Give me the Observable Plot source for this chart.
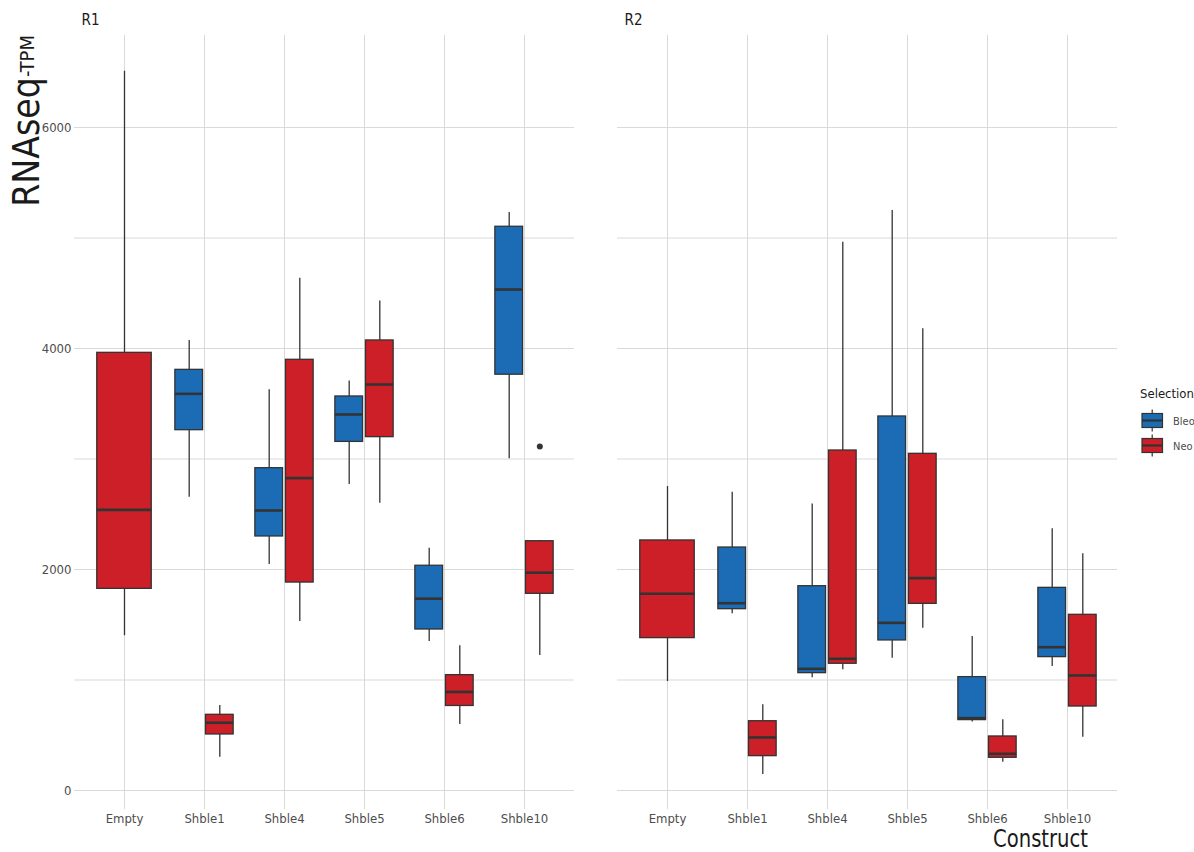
<!DOCTYPE html>
<html><head><meta charset="utf-8">
<script src="https://cdn.jsdelivr.net/npm/d3@7"></script>
<script src="https://cdn.jsdelivr.net/npm/@observablehq/plot@0.6"></script>
<style>
body{margin:0;background:#fff;}
#wrap{position:relative;width:1194px;height:852px;font-family:"Liberation Sans Narrow","DejaVu Sans Condensed","Roboto",sans-serif;}
#wrap svg.overlay{position:absolute;left:0;top:0;pointer-events:none;overflow:visible}
#wrap > svg:first-child{position:absolute;left:0;top:0}
</style></head><body><div id="wrap"></div>
<script>
// ---- data ----
const constructs = ["Empty","Shble1","Shble4","Shble5","Shble6","Shble10"];
const selections = ["Bleo","Neo"];
const replicates = ["R1","R2"];
const yTicks = [0,2000,4000,6000];
const yGrid = [0,1000,2000,3000,4000,5000,6000];

const rowReplicate = ["R1","R1","R1","R1","R1","R1","R1","R1","R1","R1","R1",
                      "R2","R2","R2","R2","R2","R2","R2","R2","R2","R2","R2"];
const rowConstruct = ["Empty","Shble1","Shble1","Shble4","Shble4","Shble5","Shble5","Shble6","Shble6","Shble10","Shble10",
                      "Empty","Shble1","Shble1","Shble4","Shble4","Shble5","Shble5","Shble6","Shble6","Shble10","Shble10"];
const rowSelection = ["Neo","Bleo","Neo","Bleo","Neo","Bleo","Neo","Bleo","Neo","Bleo","Neo",
                      "Neo","Bleo","Neo","Bleo","Neo","Bleo","Neo","Bleo","Neo","Bleo","Neo"];
const whiskerLow  = [1400,2654, 302,2045,1529,2769,2600,1349, 597,3002,1222,
                      986,1599, 145,1020,1092,1198,1469, 621, 256,1122, 483];
const boxLow      = [1825,3261, 507,2299,1882,3155,3198,1457, 765,3763,1780,
                     1379,1641, 311,1062,1147,1358,1689, 637, 296,1207, 760];
const medianValue = [2540,3590, 613,2534,2827,3403,3674,1736, 892,4534,1971,
                     1780,1695, 480,1101,1192,1517,1922, 655, 332,1297,1041];
const boxHigh     = [3961,3807, 685,2917,3898,3566,4073,2034,1044,5102,2256,
                     2263,2199, 627,1849,3077,3385,3047,1026, 489,1834,1590];
const whiskerHigh = [6510,4073, 769,3626,4637,3705,4431,2193,1311,5232,2262,
                     2751,2700, 775,2594,4962,5249,4178,1394, 640,2368,2142];

const outlierReplicate = ["R1"];
const outlierConstruct = ["Shble10"];
const outlierSelection = ["Neo"];
const outlierValue = [3113];

// ---- build tables ----
const rows = rowReplicate.map((r, i) => ({
  rep: r, construct: rowConstruct[i], selection: rowSelection[i],
  ymin: whiskerLow[i], lower: boxLow[i], middle: medianValue[i], upper: boxHigh[i], ymax: whiskerHigh[i]
}));
rows.forEach(d => {
  const n = rows.filter(e => e.rep === d.rep && e.construct === d.construct).length;
  d.group = n === 1 ? "single" : d.selection;
});
const outliers = outlierReplicate.map((r, i) => ({
  rep: r, construct: outlierConstruct[i], selection: outlierSelection[i], value: outlierValue[i]
}));

// ---- layout ----
const W = 1194, H = 852, mL = 74, mR = 77, mT = 35, mB = 43;
const facetW = 500;
const outerPad = 0.105;
const step = facetW / (constructs.length + 2 * outerPad);
const BLUE = "#1b6cb5", RED = "#cc1f27", INK = "#333333", GRID = "#d9d9d9";
const FONT = '"Liberation Sans Narrow","DejaVu Sans Condensed","Roboto",sans-serif';

const geom = {
  single: {insetLeft: step/2 - 27.5, insetRight: step/2 - 27.5, dx: 0},
  Bleo:   {insetLeft: step/2 - 29.4, insetRight: step/2 + 1.2, dx: -15.3},
  Neo:    {insetLeft: step/2 + 1.2,  insetRight: step/2 - 29.4, dx: 15.3}
};

const boxMarks = [];
for (const g of ["single","Bleo","Neo"]) {
  const data = rows.filter(d => d.group === g);
  const o = geom[g];
  boxMarks.push(
    Plot.ruleX(data, {fx: "rep", x: "construct", y1: "ymin", y2: "ymax", dx: o.dx, stroke: INK, strokeWidth: 1.3}),
    Plot.barY(data, {fx: "rep", x: "construct", y1: "lower", y2: "upper", fill: "selection",
      insetLeft: o.insetLeft, insetRight: o.insetRight, stroke: INK, strokeWidth: 1.3}),
    Plot.tickY(data, {fx: "rep", x: "construct", y: "middle", insetLeft: o.insetLeft, insetRight: o.insetRight,
      stroke: INK, strokeWidth: 2.6})
  );
}
boxMarks.push(Plot.dot(outliers, {fx: "rep", x: "construct", y: "value", dx: geom.Neo.dx, r: 3, fill: INK, stroke: "none"}));

const chart = Plot.plot({
  width: W, height: H,
  marginLeft: mL, marginRight: mR, marginTop: mT, marginBottom: mB,
  style: {fontFamily: FONT, fontSize: "13px", color: "#4d4d4d", background: "white"},
  fx: {domain: replicates, axis: null, padding: 43 / 543},
  x: {domain: constructs, type: "band", paddingInner: 0, paddingOuter: outerPad},
  y: {domain: [-172, 6833]},
  color: {domain: selections, range: [BLUE, RED]},
  marks: [
    Plot.ruleY(yGrid, {stroke: GRID, strokeWidth: 1}),
    Plot.ruleX(constructs, {x: d => d, stroke: GRID, strokeWidth: 1}),
    Plot.axisX({tickSize: 0, tickPadding: 4, label: null, fontSize: 13}),
    Plot.axisY(yTicks, {tickSize: 0, tickPadding: 3, label: null, tickFormat: d => String(d), fontSize: 13}),
    Plot.text(replicates, {fx: d => d, text: d => d, frameAnchor: "top-left", textAnchor: "start",
      lineAnchor: "middle", dx: 7, dy: -15, fontSize: 15, fill: "#1a1a1a"}),
    ...boxMarks
  ]
});

const wrap = document.getElementById("wrap");
wrap.appendChild(chart);

// ---- overlay: axis titles and legend ----
const ns = "http://www.w3.org/2000/svg";
const ov = document.createElementNS(ns, "svg");
ov.setAttribute("class", "overlay");
ov.setAttribute("width", W);
ov.setAttribute("height", H);
ov.style.fontFamily = FONT;
wrap.appendChild(ov);
function el(tag, attrs, parent = ov) {
  const e = document.createElementNS(ns, tag);
  for (const k in attrs) e.setAttribute(k, attrs[k]);
  parent.appendChild(e);
  return e;
}
// y title
const yt = el("text", {transform: "translate(39,35) rotate(-90)", "text-anchor": "end", fill: "#1a1a1a"});
const t1 = el("tspan", {"font-size": 37}, yt); t1.textContent = "RNAseq";
const t2 = el("tspan", {"font-size": 20, dy: -5}, yt); t2.textContent = "-TPM";
// x title
const xt = el("text", {x: 1088, y: 847, "text-anchor": "end", "font-size": 25, fill: "#1a1a1a",
  textLength: 95, lengthAdjust: "spacingAndGlyphs"});
xt.textContent = "Construct";
// legend
const lt = el("text", {x: 1140, y: 398, "font-size": 13, fill: "#1a1a1a"});
lt.textContent = "Selection";
const legendColors = [BLUE, RED];
selections.forEach((s, i) => {
  const top = 413.5 + i * 25;
  el("line", {x1: 1152.2, x2: 1152.2, y1: top - 4, y2: top + 18, stroke: INK, "stroke-width": 1.2});
  el("rect", {x: 1142, y: top, width: 20.5, height: 14, fill: legendColors[i], stroke: INK, "stroke-width": 1.2});
  el("line", {x1: 1142, x2: 1162.5, y1: top + 7, y2: top + 7, stroke: INK, "stroke-width": 2.2});
  const lbl = el("text", {x: 1173, y: top + 11, "font-size": 11, fill: "#4d4d4d"});
  lbl.textContent = s;
});
</script>
</body></html>
